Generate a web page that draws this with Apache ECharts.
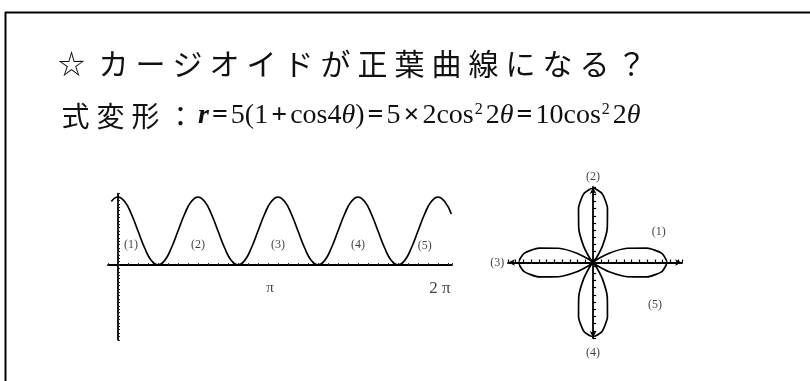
<!DOCTYPE html>
<html>
<head>
<meta charset="utf-8">
<script src="https://cdn.jsdelivr.net/npm/echarts@6/dist/echarts.min.js"></script>
<style>
  html, body { margin: 0; padding: 0; background: #ffffff; }
  #chart { width: 810px; height: 381px; }
</style>
</head>
<body>
<div id="chart"></div>
<script>
// Sample angles in degrees, every 7.5°, and r = 10cos²2θ at each of them
const thetaDeg = [
  -7.5, 0, 7.5, 15, 22.5, 30, 37.5, 45, 52.5, 60, 67.5, 75, 82.5,
  90, 97.5, 105, 112.5, 120, 127.5, 135, 142.5, 150, 157.5, 165, 172.5,
  180, 187.5, 195, 202.5, 210, 217.5, 225, 232.5, 240, 247.5, 255, 262.5,
  270, 277.5, 285, 292.5, 300, 307.5, 315, 322.5, 330, 337.5, 345, 352.5,
  360, 367.5, 375
];
const rValues = [
  9.33, 10, 9.33, 7.5, 5, 2.5, 0.67, 0, 0.67, 2.5, 5, 7.5, 9.33,
  10, 9.33, 7.5, 5, 2.5, 0.67, 0, 0.67, 2.5, 5, 7.5, 9.33,
  10, 9.33, 7.5, 5, 2.5, 0.67, 0, 0.67, 2.5, 5, 7.5, 9.33,
  10, 9.33, 7.5, 5, 2.5, 0.67, 0, 0.67, 2.5, 5, 7.5, 9.33,
  10, 9.33, 7.5
];
// Petal / hump numbering and the θ tick labels
const regionNames = ['(1)', '(2)', '(3)', '(4)', '(5)'];
const piTicks = [180, 360];
const piTickText = ['π', '2 π'];

const heading = 'カージオイドが正葉曲線になる？';
const subHeading = '式変形：';

const chart = echarts.init(document.getElementById('chart'), null, { renderer: 'canvas' });

// r(θ) as a Cartesian graph
const waveData = thetaDeg.map((t, i) => [t, rValues[i]]);
// the same r(θ) on polar axes, one full turn
const roseData = thetaDeg
  .map((t, i) => [rValues[i], t])
  .filter(d => d[1] >= 0 && d[1] <= 360);

// annotation anchors, in each panel's own data units
const waveLabelAt = [[14.6, 2.9], [90, 2.9], [180, 2.9], [270, 2.9], [345, 2.8]];
const petalLabelAt = [[8.5, 4.2], [0, 11.9], [-12.4, 0], [0, -12.6], [8.0, -5.9]];
const piLabelY = -3.4;

const serif = '"Liberation Serif", "DejaVu Serif", serif';
const jp = '"Noto Sans CJK JP", sans-serif';

const headingText = '{s|☆}' + heading.split('').map(c => '{c|' + c + '}').join('');
const formulaText = subHeading.split('').map(c => '{k|' + c + '}').join('') +
  '{r|r}{o|=}{m|5(1}{o|+}{m|cos4}{i|θ}{m|)}{o|=}{m|5}{o|×}{m|2cos}{u|2}{n|2}{i|θ}' +
  '{o|=}{m|10cos}{u|2}{n|2}{i|θ}';

const axisBlack = { color: '#000', width: 1.8 };
const ink = '#111';

const option = {
  backgroundColor: '#ffffff',
  animation: false,
  title: [
    {
      text: headingText,
      left: 58, top: 46, padding: 0,
      textStyle: {
        fontWeight: 'normal',
        rich: {
          s: { fontFamily: jp, fontWeight: 'normal', fontSize: 27, color: ink, lineHeight: 36, padding: [0, 10, 0, 0] },
          c: { fontFamily: jp, fontWeight: 'normal', fontSize: 30, color: ink, lineHeight: 36, padding: [0, 3.5, 0, 3.5] }
        }
      }
    },
    {
      text: formulaText,
      left: 58, top: 98, padding: 0,
      textStyle: {
        fontWeight: 'normal',
        rich: {
          k: { fontFamily: jp, fontWeight: 'normal', fontSize: 28, color: ink, lineHeight: 36, padding: [0, 3.5, 0, 3.5] },
          r: { fontFamily: serif, fontStyle: 'italic', fontWeight: 'bold', fontSize: 28, color: ink, lineHeight: 36 },
          i: { fontFamily: serif, fontStyle: 'italic', fontWeight: 'normal', fontSize: 28, color: ink, lineHeight: 36 },
          m: { fontFamily: serif, fontWeight: 'normal', fontSize: 28, color: ink, lineHeight: 36 },
          n: { fontFamily: serif, fontWeight: 'normal', fontSize: 28, color: ink, lineHeight: 36, padding: [0, 0, 0, 2] },
          o: { fontFamily: serif, fontWeight: 'bold', fontSize: 28, color: ink, lineHeight: 36, padding: [0, 3, 0, 3] },
          u: { fontFamily: serif, fontWeight: 'normal', fontSize: 16, color: ink, lineHeight: 16, verticalAlign: 'top', padding: [4, 1, 0, 1] }
        }
      }
    }
  ],
  grid: [
    { left: 108, top: 193.6, width: 344, height: 146.2 },
    { left: 508, top: 187, width: 174, height: 151 }
  ],
  xAxis: [
    {
      type: 'value', gridIndex: 0, min: -11.25, max: 375.75, interval: 11.25,
      axisLine: { onZero: true, lineStyle: axisBlack },
      axisTick: { show: true, inside: true, length: 2, lineStyle: { color: '#333', width: 1 } },
      splitLine: { show: false },
      axisLabel: { show: false }
    },
    {
      type: 'value', gridIndex: 1, min: -11, max: 11.5, interval: 1,
      axisLine: { onZero: true, lineStyle: axisBlack, symbol: ['arrow', 'arrow'], symbolSize: [5, 7] },
      axisTick: { show: true, inside: true, length: 3, lineStyle: { color: '#000', width: 1.2 } },
      splitLine: { show: false },
      axisLabel: { show: false }
    }
  ],
  yAxis: [
    {
      type: 'value', gridIndex: 0, min: -11, max: 10.5, interval: 0.5,
      axisLine: { onZero: true, lineStyle: axisBlack },
      axisTick: { show: true, inside: true, length: 2, lineStyle: { color: '#222', width: 1 } },
      splitLine: { show: false },
      axisLabel: { show: false }
    },
    {
      type: 'value', gridIndex: 1, min: -10.5, max: 10.5, interval: 1,
      axisLine: { onZero: true, lineStyle: axisBlack, symbol: ['arrow', 'arrow'], symbolSize: [5, 7] },
      axisTick: { show: true, inside: true, length: 3, lineStyle: { color: '#000', width: 1.2 } },
      splitLine: { show: false },
      axisLabel: { show: false }
    }
  ],
  polar: { center: [593, 262.5], radius: 74.5 },
  angleAxis: { type: 'value', min: 0, max: 360, startAngle: 0, clockwise: false, show: false },
  radiusAxis: { type: 'value', min: 0, max: 10, show: false },
  series: [
    {
      type: 'line', xAxisIndex: 0, yAxisIndex: 0, data: waveData,
      showSymbol: false, smooth: 0.5, clip: false,
      lineStyle: { color: '#000', width: 1.7 }
    },
    {
      type: 'line', coordinateSystem: 'polar', data: roseData,
      showSymbol: false, smooth: 0.2,
      lineStyle: { color: '#000', width: 1.7 }
    },
    {
      type: 'scatter', xAxisIndex: 0, yAxisIndex: 0, symbolSize: 0, clip: false,
      data: regionNames.map((n, i) => ({ name: n, value: waveLabelAt[i] })),
      label: { show: true, position: 'inside', formatter: p => p.name,
               fontFamily: serif, fontSize: 12, color: ink }
    },
    {
      // θ = π and θ = 2π under the horizontal axis
      type: 'scatter', xAxisIndex: 0, yAxisIndex: 0, symbolSize: 0, clip: false,
      data: piTicks.map((v, i) => ({
        name: piTickText[i], value: [v, piLabelY],
        label: i === 0 ? { offset: [-8, 0], fontSize: 15 } : { offset: [2, 0], fontSize: 17 }
      })),
      label: { show: true, position: 'inside', formatter: p => p.name,
               fontFamily: serif, color: ink }
    },
    {
      type: 'scatter', xAxisIndex: 1, yAxisIndex: 1, symbolSize: 0, clip: false,
      data: regionNames.map((n, i) => ({ name: n, value: petalLabelAt[i] })),
      label: { show: true, position: 'inside', formatter: p => p.name,
               fontFamily: serif, fontSize: 12, color: ink }
    }
  ],
  graphic: [
    { type: 'line', shape: { x1: 5, y1: 12.5, x2: 810, y2: 12.5 }, style: { stroke: '#000', lineWidth: 2 } },
    { type: 'line', shape: { x1: 5.5, y1: 12, x2: 5.5, y2: 381 }, style: { stroke: '#000', lineWidth: 2 } }
  ]
};

chart.setOption(option);
</script>
</body>
</html>
